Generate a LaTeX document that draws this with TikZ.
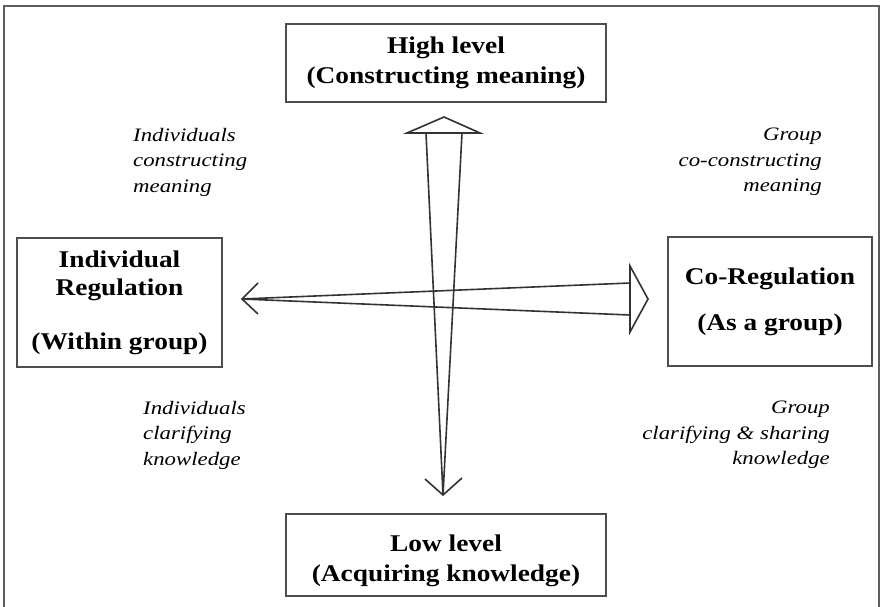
\documentclass[tikz,border=0pt]{standalone}
\usepackage{fontspec}
\setmainfont{Liberation Serif}
\newfontfamily\boxfont[FakeStretch=1.14]{Liberation Serif}
\newfontfamily\labfont[FakeStretch=1.2]{Liberation Serif}
\definecolor{boxgray}{HTML}{4E4E4E}
\definecolor{arrgray}{HTML}{333333}
\definecolor{framegray}{HTML}{5E5E5E}
\begin{document}
\begin{tikzpicture}[x=1pt,y=-1pt,
  box/.style={draw=boxgray, line width=2.6pt, inner sep=0pt, align=center,
    font=\boxfont\bfseries\fontsize{24}{30}\selectfont},
  lab/.style={inner sep=0pt, font=\labfont\itshape\fontsize{19}{25.5}\selectfont},
  arr/.style={draw=arrgray, line width=1.6pt, line join=miter},
  frame/.style={draw=framegray, line width=2pt}]
\useasboundingbox (0,0) rectangle (883,607);
\fill[white] (0,0) rectangle (883,607);
\draw[frame] (4,610) -- (4,6) -- (879,6) -- (879,610);

% boxes
\node[box, minimum width=320pt, minimum height=78pt] (high) at (446,63)
  {High level\\(Constructing meaning)};
\node[box, minimum width=320pt, minimum height=82pt] (low) at (446,555)
  {\raisebox{-5pt}[\height][\depth]{\begin{tabular}{@{}c@{}}Low level\\(Acquiring knowledge)\end{tabular}}};
\node[box, minimum width=205pt, minimum height=129pt,
  font=\boxfont\bfseries\fontsize{24}{28}\selectfont] (indiv) at (119.5,302.5)
  {Individual\\Regulation\\[26pt](Within group)};
\node[box, minimum width=204pt, minimum height=129pt] (coreg) at (770,301.5)
  {Co-Regulation\\[16pt](As a group)};

% labels
\node[lab, anchor=north west, align=left] (tl) at (133,128)
  {Individuals\\constructing\\meaning};
\node[lab, anchor=north east, align=right] (tr) at (822,128)
  {Group\\co-constructing\\meaning};
\node[lab, anchor=north west, align=left] (bl) at (143,401)
  {Individuals\\clarifying\\knowledge};
\node[lab, anchor=north east, align=right] (br) at (830,401)
  {Group\\clarifying \& sharing\\knowledge};

% vertical arrow
\coordinate (vapex) at (444,117);
\coordinate (vbl) at (407,133);
\coordinate (vbr) at (480,133);
\coordinate (vsl) at (426,133);
\coordinate (vsr) at (462,133);
\coordinate (vtip) at (443,495);
\coordinate (vvl) at (425,479);
\coordinate (vvr) at (462,478);
\draw[arr] (vbl) -- (vapex) -- (vbr) -- cycle;
\draw[arr] (vsl) -- (vtip) -- (vsr);
\draw[arr] (vvl) -- (vtip) -- (vvr);

% horizontal arrow
\coordinate (happex) at (648,299);
\coordinate (hbt) at (630,266);
\coordinate (hbb) at (630,332);
\coordinate (hst) at (630,283);
\coordinate (hsb) at (630,315);
\coordinate (htip) at (242,299);
\coordinate (hvt) at (258,283);
\coordinate (hvb) at (258,314);
\draw[arr] (hbt) -- (happex) -- (hbb) -- cycle;
\draw[arr] (hst) -- (htip) -- (hsb);
\draw[arr] (hvt) -- (htip) -- (hvb);
\end{tikzpicture}
\end{document}
